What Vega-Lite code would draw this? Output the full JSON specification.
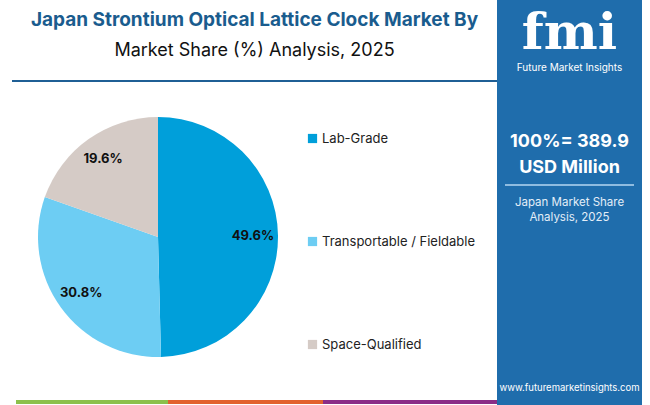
{
  "$schema": "https://vega.github.io/schema/vega-lite/v6.json",
  "background": "white",
  "padding": {"left": 12, "top": 0, "right": 8, "bottom": 0},
  "spacing": 0,
  "config": {"view": {"stroke": null}, "font": "Inter", "concat": {"spacing": 0}},
  "hconcat": [
    {
      "spacing": 0,
      "vconcat": [
        {
          "width": 485, "height": 11,
          "data": {"values": []},
          "mark": "text",
          "encoding": {}
        },
        {
          "width": 485, "height": 2,
          "view": {"fill": "#1F5F95", "stroke": null},
          "title": {
            "text": "Japan Strontium Optical Lattice Clock Market By",
            "subtitle": "Market Share (%) Analysis, 2025",
            "anchor": "middle",
            "font": "Inter",
            "fontSize": 19,
            "fontWeight": "bold",
            "color": "#1A5C8E",
            "subtitleFont": "Inter",
            "subtitleFontSize": 18,
            "subtitleColor": "#111111",
            "subtitlePadding": 12,
            "offset": 20
          },
          "data": {"values": []},
          "mark": "text",
          "encoding": {}
        },
        {
          "width": 292, "height": 310,
          "data": {"values": [
            {"segment": "Lab-Grade", "share": 49.6, "label": "49.6%", "rank": 1},
            {"segment": "Transportable / Fieldable", "share": 30.8, "label": "30.8%", "rank": 2},
            {"segment": "Space-Qualified", "share": 19.6, "label": "19.6%", "rank": 3}
          ]},
          "encoding": {
            "theta": {"field": "share", "type": "quantitative", "stack": true},
            "order": {"field": "rank", "type": "quantitative"},
            "color": {
              "field": "segment", "type": "nominal",
              "scale": {"domain": ["Lab-Grade", "Transportable / Fieldable", "Space-Qualified"], "range": ["#009FDA", "#6DCDF3", "#D5CBC6"]},
              "legend": {
                "orient": "none", "legendX": 294, "legendY": 132,
                "title": null, "symbolType": "square", "symbolSize": 85,
                "symbolStrokeWidth": 0,
                "labelFont": "Inter", "labelFontSize": 13, "labelColor": "#222222",
                "labelOffset": 3, "rowPadding": 89
              }
            }
          },
          "layer": [
            {"mark": {"type": "arc", "radius": 120}},
            {
              "mark": {"type": "text", "radius": 95, "fontSize": 13, "fontWeight": "bold", "font": "Inter"},
              "encoding": {"text": {"field": "label", "type": "nominal"}, "color": {"value": "#111111"}}
            }
          ]
        },
        {
          "width": 485, "height": 8,
          "data": {"values": []},
          "mark": "text",
          "encoding": {}
        },
        {
          "spacing": 0,
          "hconcat": [
            {"width": 4, "height": 4, "data": {"values": []}, "mark": "text", "encoding": {}},
            {"width": 152, "height": 4, "view": {"fill": "#8CC04B", "stroke": null}, "data": {"values": []}, "mark": "text", "encoding": {}},
            {"width": 155, "height": 4, "view": {"fill": "#E2622E", "stroke": null}, "data": {"values": []}, "mark": "text", "encoding": {}},
            {"width": 174, "height": 4, "view": {"fill": "#8A2D87", "stroke": null}, "data": {"values": []}, "mark": "text", "encoding": {}}
          ]
        }
      ]
    },
    {
      "spacing": 0,
      "bounds": "flush",
      "vconcat": [
        {
          "width": 145, "height": 62,
          "view": {"fill": "#1F6DAC", "stroke": null},
          "data": {"values": [{"text": "fmi"}]},
          "mark": {"type": "text", "font": "DejaVu Serif", "fontSize": 51, "fontWeight": "bold", "color": "white", "dy": 3},
          "encoding": {"text": {"field": "text", "type": "nominal"}}
        },
        {
          "width": 145, "height": 12,
          "view": {"fill": "#1F6DAC", "stroke": null},
          "data": {"values": [{"text": "Future Market Insights"}]},
          "mark": {"type": "text", "font": "Inter", "fontSize": 10, "color": "white"},
          "encoding": {"text": {"field": "text", "type": "nominal"}}
        },
        {
          "width": 145, "height": 56,
          "view": {"fill": "#1F6DAC", "stroke": null},
          "data": {"values": []},
          "mark": "text",
          "encoding": {}
        },
        {
          "width": 145, "height": 50,
          "view": {"fill": "#1F6DAC", "stroke": null},
          "data": {"values": [{"text": "100%= 389.9\nUSD Million"}]},
          "mark": {"type": "text", "font": "Inter", "fontSize": 18, "fontWeight": "bold", "color": "white", "lineBreak": "\n", "lineHeight": 26, "dy": -13},
          "encoding": {"text": {"field": "text", "type": "nominal"}}
        },
        {
          "width": 145, "height": 10,
          "view": {"fill": "#1F6DAC", "stroke": null},
          "data": {"values": [{"text": "divider"}]},
          "mark": {"type": "tick", "orient": "horizontal", "size": 129, "thickness": 2, "color": "#8FBCE0", "opacity": 1},
          "encoding": {}
        },
        {
          "width": 145, "height": 41,
          "view": {"fill": "#1F6DAC", "stroke": null},
          "data": {"values": [{"text": "Japan Market Share\nAnalysis, 2025"}]},
          "mark": {"type": "text", "font": "Inter", "fontSize": 11.5, "color": "#E3EEF8", "lineBreak": "\n", "lineHeight": 15, "dy": -7.5},
          "encoding": {"text": {"field": "text", "type": "nominal"}}
        },
        {
          "width": 145, "height": 140,
          "view": {"fill": "#1F6DAC", "stroke": null},
          "data": {"values": []},
          "mark": "text",
          "encoding": {}
        },
        {
          "width": 145, "height": 34,
          "view": {"fill": "#1F6DAC", "stroke": null},
          "data": {"values": [{"text": "www.futuremarketinsights.com"}]},
          "mark": {"type": "text", "font": "Inter", "fontSize": 9.5, "color": "white"},
          "encoding": {"text": {"field": "text", "type": "nominal"}}
        }
      ]
    }
  ]
}
